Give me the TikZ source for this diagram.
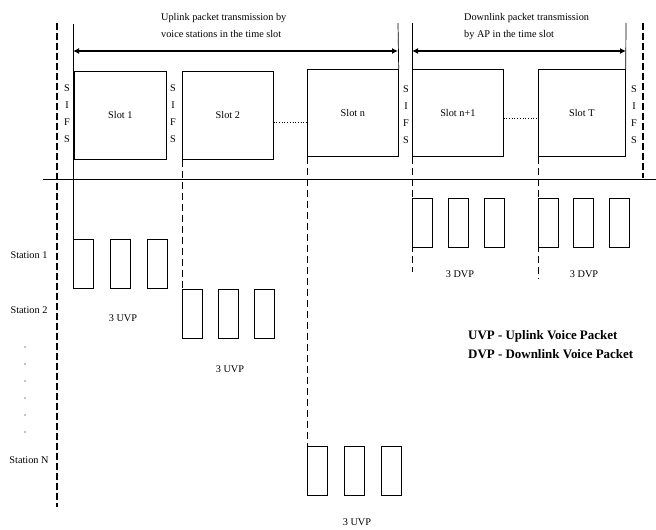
\documentclass[tikz,border=0pt]{standalone}
\usepackage{fontspec}
\setmainfont{Liberation Serif}
\usetikzlibrary{arrows.meta}
\begin{document}
\begin{tikzpicture}[x=1bp,y=-1bp,
  every node/.style={font=\fontsize{10.3}{12}\selectfont},
  slotbox/.style={draw, line width=0.7bp, inner sep=0pt, anchor=north west, minimum height=87bp},
  pkt/.style={draw, line width=0.8bp, inner sep=0pt, anchor=north west, minimum width=20bp, minimum height=49bp},
  sifs/.style={font=\fontsize{10.3}{17}\selectfont, align=center, inner sep=0pt},
  bigdash/.style={line width=2bp, dash pattern=on 7bp off 3bp},
  thindash/.style={line width=0.7bp, dash pattern=on 7bp off 4bp},
  thin/.style={line width=0.7bp},
  span/.style={line width=2.4bp, {Latex[length=6bp,width=6bp]}-{Latex[length=6bp,width=6bp]}},
  lbl/.style={inner sep=1pt},
  legend/.style={font=\fontsize{13}{15}\selectfont\bfseries, anchor=west, inner sep=0pt}]
\useasboundingbox (0,0) rectangle (656,530);

% top texts
\node[lbl, align=left, anchor=north west, font=\fontsize{10.3}{17}\selectfont] (uptxt) at (160,12) {Uplink packet transmission by\\voice stations in the time slot};
\node[lbl, align=left, anchor=north west, font=\fontsize{10.3}{17}\selectfont] (dntxt) at (463,12) {Downlink packet transmission\\by AP in the time slot};

% slots
\node[slotbox, minimum width=92bp, minimum height=88bp] (s1) at (74,71) {Slot 1};
\node[slotbox, minimum width=91bp, minimum height=88bp] (s2) at (182,71) {Slot 2};
\node[slotbox, minimum width=91bp] (sn) at (307,69) {Slot n};
\node[slotbox, minimum width=91bp] (sn1) at (412,69) {Slot n+1};
\node[slotbox, minimum width=87bp] (sT) at (538,69) {Slot T};
\draw[line width=1.4bp] (s1.south west) -- (s1.south east);
\draw[line width=1.4bp] (s2.south west) -- (s2.south east);

% SIFS
\node[sifs] (f1) at (67,114) {S\\I\\F\\S};
\node[sifs] (f2) at (173,114) {S\\I\\F\\S};
\node[sifs] (f3) at (406,115) {S\\I\\F\\S};
\node[sifs] (f4) at (634,115) {S\\I\\F\\S};

% dotted between slots
\draw[thin, dotted] ([yshift=-7bp]s2.east) -- ([yshift=-7bp]s2.east -| sn.west);
\draw[thin, dotted] ([yshift=-6bp]sn1.east) -- ([yshift=-6bp]sn1.east -| sT.west);

% thick dashed borders and timeline
\coordinate (bl1) at (57,23);
\coordinate (bl2) at (57,507);
\coordinate (br1) at (643,23);
\coordinate (br2) at (643,178);
\draw[bigdash] (bl1) -- (bl2);
\draw[bigdash] (br1) -- (br2);
\coordinate (t1) at (43,179);
\coordinate (t2) at (656,179);
\draw[thin] (t1) -- (t2);

% packets station 1
\node[pkt] (p11) at (73,239) {};
\node[pkt] (p12) at (110,239) {};
\node[pkt] (p13) at (147,239) {};
% station 2
\node[pkt] (p21) at (182,289) {};
\node[pkt] (p22) at (218,289) {};
\node[pkt] (p23) at (254,289) {};
% station N
\node[pkt] (pN1) at (307,446) {};
\node[pkt] (pN2) at (344,446) {};
\node[pkt] (pN3) at (381,446) {};
% downlink groups
\node[pkt] (d11) at (412,198) {};
\node[pkt] (d12) at (448,198) {};
\node[pkt] (d13) at (484,198) {};
\node[pkt] (d21) at (538,198) {};
\node[pkt] (d22) at (573,198) {};
\node[pkt] (d23) at (609,198) {};

% vertical guide lines
\coordinate (u1) at (73,24);
\coordinate (u2) at (398,23);
\coordinate (v1) at (412,23);
\coordinate (v2) at (626,23);
\coordinate (e1) at (412,272);
\coordinate (e2) at (538,279);
\draw[thin] (u1) -- (p11.north west);
\draw[thin] (u2) -- (sn.north east);
\draw[thin] (v1) -- (sn1.north west);
\draw[thin] (v2) -- (sT.north east);
\draw[thindash] (s2.south west) -- (p21.north west);
\draw[thindash] (sn.south west) -- (pN1.north west);
\draw[thindash] (sn1.south west) -- (e1);
\draw[thindash] (sT.south west) -- (e2);

% span arrows
\coordinate (a1) at (73,51);
\coordinate (a2) at (398,51);
\coordinate (a3) at (412,51);
\coordinate (a4) at (626,51);
\draw[span] (a1) -- (a2);
\draw[span] (a3) -- (a4);

% labels
\node[lbl] (st1) at (29,255) {Station 1};
\node[lbl] (st2) at (29,310) {Station 2};
\node[lbl] (stN) at (29,460) {Station N};
\foreach \yy [count=\i] in {347,364,381,398,415,432} {
  \node[circle, fill, inner sep=0pt, minimum size=1.4bp] (dot\i) at (25,\yy) {};
}
\node[lbl] (u1l) at (123,318) {3 UVP};
\node[lbl] (u2l) at (230,369) {3 UVP};
\node[lbl] (uNl) at (357,522) {3 UVP};
\node[lbl] (d1l) at (460,274) {3 DVP};
\node[lbl] (d2l) at (584,274) {3 DVP};

% legend
\node[legend] (lg1) at (468,336) {UVP - Uplink Voice Packet};
\node[legend] (lg2) at (468,354) {DVP - Downlink Voice Packet};
\end{tikzpicture}
\end{document}
